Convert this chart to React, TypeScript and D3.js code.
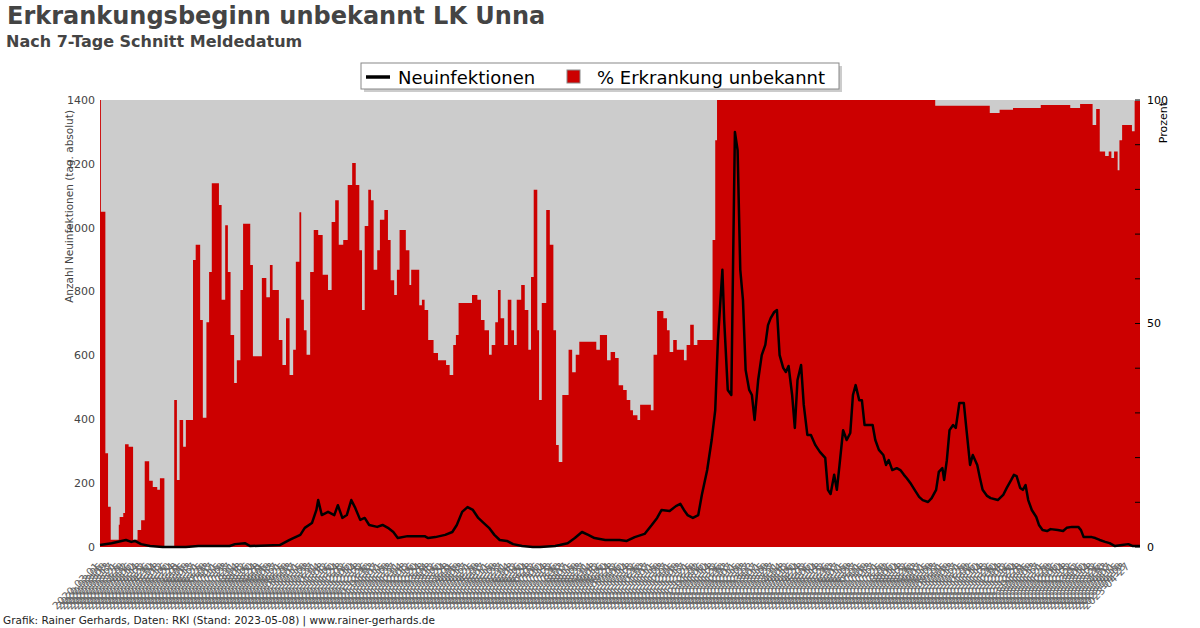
import React from "react";
import * as d3 from "d3";

// ---- data ----
const startDate = "2020-03-01";
const endDate = "2023-05-08";
const labelEveryDays = 4;
const leftTicks = [0, 200, 400, 600, 800, 1000, 1200, 1400];
const rightTickLabels = [0, 50, 100];
const rightMinorTicks = [0, 10, 20, 30, 40, 50, 60, 70, 80, 90, 100];

// % Erkrankung unbekannt (step starts, days since start)
const pctDays = [0, 1, 6, 9, 12, 21, 22, 26, 28, 32, 37, 42, 46, 50, 55, 59, 64, 67, 72, 83, 86, 89, 93, 96, 104, 107, 112, 115, 119, 122, 125, 133, 136, 140, 143, 146, 150, 153, 157, 160, 168, 171, 181, 186, 190, 193, 200, 204, 208, 212, 216, 219, 223, 225, 228, 231, 235, 239, 244, 249, 255, 259, 263, 267, 272, 277, 282, 286, 290, 293, 296, 300, 303, 306, 310, 313, 318, 322, 325, 329, 332, 335, 342, 346, 348, 357, 360, 363, 367, 373, 378, 387, 391, 395, 398, 401, 416, 422, 426, 430, 435, 438, 442, 445, 448, 452, 456, 460, 463, 466, 471, 475, 479, 482, 485, 489, 491, 494, 499, 503, 507, 510, 513, 517, 524, 528, 532, 536, 555, 559, 567, 571, 576, 580, 585, 589, 593, 596, 601, 604, 616, 619, 623, 630, 634, 637, 641, 645, 653, 656, 660, 664, 668, 685, 688, 690, 934, 995, 1006, 1021, 1052, 1085, 1096, 1110, 1114, 1118, 1124, 1128, 1131, 1134, 1138, 1140, 1143, 1152, 1154, 1157, 1163];
const pctValues = [100, 75, 21, 9, 1.6, 5, 6.7, 7.6, 23, 22.4, 1.6, 3.8, 6, 19.2, 14.8, 13.4, 12.8, 15.4, 0, 32.9, 15, 28.4, 22.4, 28.4, 64.2, 67.6, 50.8, 28.9, 50.3, 61.5, 81.4, 76.5, 55.3, 72, 61.5, 47.4, 36.7, 41.8, 57.5, 72.3, 63.1, 42.7, 60.2, 55.9, 63.1, 57.5, 46.3, 40.7, 51.2, 38.5, 44.1, 63.8, 74.9, 55.3, 48.5, 43, 61.5, 70.9, 69.8, 60.9, 57.5, 72.7, 77.6, 67.6, 68.7, 81, 85.9, 81, 66.4, 53, 71.8, 79.9, 77.6, 62, 66.4, 73.2, 75.4, 68.7, 59.7, 56.4, 62, 70.9, 66.4, 58.6, 62, 54.1, 55.3, 53, 46.3, 43.4, 41.8, 40.7, 38.5, 45.2, 47.4, 54.6, 56.4, 55.3, 50.8, 48.5, 43, 45.2, 50.3, 57.5, 51.2, 45.2, 55.3, 48.5, 45.2, 55.3, 58.6, 53, 44.1, 60.4, 79.9, 48.5, 32.9, 54.6, 75.4, 67.6, 48.5, 22.8, 19, 34, 44.1, 39.1, 43, 45.9, 44.1, 47.4, 41.8, 43.6, 42.3, 36.2, 35.1, 32.9, 30.6, 29.5, 28.4, 31.8, 30.6, 43, 52.8, 51.2, 48.5, 43.6, 46.3, 44.1, 41.8, 45.2, 49.7, 45.2, 46.3, 68.7, 91, 100, 98.7, 97.1, 97.8, 98.2, 98.9, 98.2, 99.1, 94.4, 98, 88.5, 87.5, 88.5, 87, 88.5, 84.3, 91, 94.4, 94.4, 93, 99.8, 99.8];

// Neuinfektionen (7-Tage Schnitt)
const caseDays = [0, 13, 29, 35, 39, 46, 56, 70, 96, 110, 145, 151, 162, 168, 201, 212, 224, 229, 237, 242, 244, 248, 255, 262, 266, 271, 276, 281, 285, 291, 296, 301, 310, 316, 322, 328, 333, 344, 363, 367, 375, 386, 394, 399, 405, 411, 417, 423, 428, 435, 441, 447, 455, 462, 472, 484, 492, 509, 514, 523, 531, 539, 546, 553, 565, 581, 589, 598, 609, 617, 623, 628, 637, 644, 649, 653, 657, 663, 669, 673, 679, 684, 688, 691, 696, 698, 702, 706, 708, 710, 713, 716, 719, 722, 726, 729, 732, 736, 740, 744, 747, 750, 754, 757, 760, 764, 767, 770, 774, 777, 780, 784, 787, 791, 795, 800, 805, 811, 814, 817, 821, 824, 827, 831, 835, 839, 842, 845, 849, 852, 855, 864, 867, 871, 876, 879, 882, 886, 891, 895, 899, 902, 907, 911, 916, 920, 926, 930, 935, 938, 942, 944, 947, 950, 954, 957, 961, 966, 969, 973, 976, 981, 984, 987, 992, 996, 1004, 1010, 1014, 1019, 1022, 1025, 1029, 1032, 1035, 1038, 1042, 1047, 1050, 1054, 1059, 1063, 1071, 1077, 1081, 1087, 1094, 1097, 1100, 1109, 1113, 1118, 1124, 1129, 1135, 1143, 1150, 1155, 1163];
const caseValues = [6, 12, 22, 16, 19, 9, 3, 0, 0, 3, 3, 9, 12, 3, 6, 22, 38, 60, 75, 116, 147, 100, 110, 100, 131, 91, 100, 147, 125, 85, 91, 69, 63, 69, 60, 47, 28, 34, 34, 28, 31, 38, 47, 69, 110, 125, 116, 91, 78, 60, 38, 22, 19, 9, 3, 0, 0, 3, 6, 12, 28, 47, 38, 28, 22, 22, 19, 31, 41, 69, 91, 116, 113, 128, 135, 116, 100, 91, 100, 163, 241, 335, 429, 648, 868, 711, 492, 476, 899, 1300, 1243, 868, 774, 554, 492, 476, 398, 523, 601, 633, 695, 717, 736, 742, 601, 561, 548, 567, 476, 373, 523, 570, 445, 351, 351, 319, 298, 279, 179, 166, 226, 179, 257, 366, 335, 357, 476, 507, 460, 460, 382, 382, 335, 304, 288, 257, 272, 241, 247, 241, 226, 216, 197, 179, 157, 147, 141, 153, 179, 235, 247, 210, 272, 366, 382, 373, 451, 451, 366, 257, 288, 257, 216, 179, 160, 153, 147, 163, 185, 210, 226, 222, 185, 179, 194, 147, 116, 94, 69, 53, 50, 56, 53, 50, 60, 63, 63, 53, 31, 31, 28, 22, 16, 12, 3, 6, 9, 3, 3];

const W = 1200;
const H = 628;
const L = 100, R = 1140, T = 100, B = 547;
const FONT = "DejaVu Sans, sans-serif";

export default function App() {
  const parse = d3.timeParse("%Y-%m-%d");
  const fmt = d3.timeFormat("%Y-%m-%d");
  const s = parse(startDate)!;
  const e = parse(endDate)!;
  const allDates = d3.timeDay.range(s, d3.timeDay.offset(e, 1));
  const nDays = allDates.length;

  const x = d3.scaleLinear().domain([0, nDays - 1]).range([L, R]);
  const yL = d3.scaleLinear().domain([0, 1400]).range([B, T]);
  const yR = d3.scaleLinear().domain([0, 100]).range([B, T]);

  const pct = pctDays.map((d, i) => ({ d, v: pctValues[i] }));
  const cases = caseDays.map((d, i) => ({ d, v: caseValues[i] }));

  const area = d3
    .area<{ d: number; v: number }>()
    .x((p) => x(p.d))
    .y0(yR(0))
    .y1((p) => yR(p.v))
    .curve(d3.curveStepAfter);
  const line = d3
    .line<{ d: number; v: number }>()
    .x((p) => x(p.d))
    .y((p) => yL(p.v));

  const labelIdx = d3.range(0, nDays - 8, labelEveryDays);

  return (
    <svg
      width={W}
      height={H}
      style={{ position: "absolute", left: 0, top: 0, background: "#fff" }}
      fontFamily={FONT}
    >
      <rect x={0} y={0} width={W} height={H} fill="#fff" />
      <text x={7} y={24} fontSize={24} fontWeight="bold" fill="#444">
        Erkrankungsbeginn unbekannt LK Unna
      </text>
      <text x={6} y={47} fontSize={16} fontWeight="bold" fill="#444">
        Nach 7-Tage Schnitt Meldedatum
      </text>

      {/* plot */}
      <rect x={L} y={T} width={R - L} height={B - T} fill="#cccccc" />
      <path d={area(pct) || ""} fill="#cc0000" />
      <path d={line(cases) || ""} fill="none" stroke="#000" strokeWidth={2.5} strokeLinejoin="round" />

      {/* left axis */}
      {leftTicks.map((t) => (
        <text key={t} x={95} y={yL(t)} dy="0.35em" textAnchor="end" fontSize={11} fill="#444">
          {t}
        </text>
      ))}
      <text
        transform={`translate(73,110) rotate(-90)`}
        textAnchor="end"
        fontSize={10.5}
        fill="#444"
      >
        Anzahl Neuinfektionen (tag. absolut)
      </text>

      {/* right axis */}
      {rightMinorTicks.map((t) => (
        <line key={t} x1={R - 5} x2={R} y1={yR(t)} y2={yR(t)} stroke="#000" strokeWidth={1} />
      ))}
      {rightTickLabels.map((t) => (
        <text key={t} x={R + 7} y={yR(t)} dy="0.35em" fontSize={11} fill="#000">
          {t}
        </text>
      ))}
      <text transform={`translate(1167,102) rotate(-90)`} textAnchor="end" fontSize={11} fill="#000">
        Prozent
      </text>

      {/* x labels */}
      <g fontSize={10.5} fill="#666">
        {labelIdx.map((i) => (
          <text key={i} transform={`translate(${x(i)},${B + 20}) rotate(-45)`} textAnchor="end">
            {fmt(allDates[i])}
          </text>
        ))}
      </g>

      {/* legend */}
      <rect x={364} y={66} width={478} height={26} fill="#999" opacity={0.5} />
      <rect x={361} y={63} width={478} height={26} fill="#fff" stroke="#888" strokeWidth={1} />
      <line x1={366} x2={390} y1={77} y2={77} stroke="#000" strokeWidth={3.5} />
      <text x={398} y={84} fontSize={18} fill="#000">
        Neuinfektionen
      </text>
      <rect x={567} y={70} width={13} height={13} fill="#cc0000" stroke="#888" strokeWidth={1} />
      <text x={597} y={84} fontSize={18} fill="#000">
        % Erkrankung unbekannt
      </text>

      <text x={3} y={624} fontSize={10.5} fill="#222">
        Grafik: Rainer Gerhards, Daten: RKI (Stand: 2023-05-08) | www.rainer-gerhards.de
      </text>
    </svg>
  );
}
